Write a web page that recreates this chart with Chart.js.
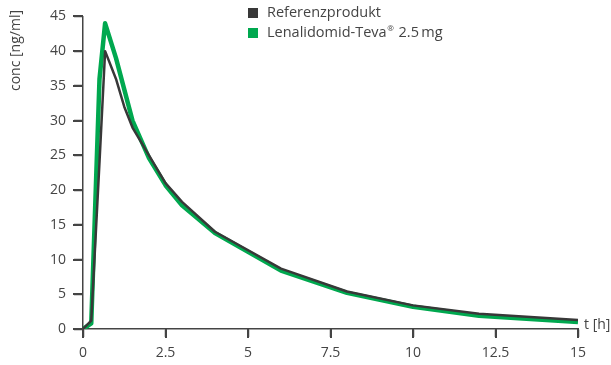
<!DOCTYPE html>
<html>
<head>
<meta charset="utf-8">
<script src="https://cdn.jsdelivr.net/npm/chart.js@4/dist/chart.umd.min.js"></script>
<style>
  html, body { margin: 0; padding: 0; background: #fff; }
  #wrap { position: relative; width: 611px; height: 365px; }
</style>
</head>
<body>
<div id="wrap"><canvas id="chart"></canvas></div>
<script>
// time points [h]
var times = [0, 0.25, 0.5, 0.67, 1, 1.25, 1.5, 2, 2.5, 3, 4, 6, 8, 10, 12, 15];
// conc [ng/ml]
var referenz = [0, 1.2, 24, 40, 36, 32, 29, 25, 21, 18.3, 14, 8.7, 5.4, 3.4, 2.2, 1.3];
var teva = [0, 0.8, 36, 44, 39, 34.5, 30, 24.6, 20.7, 17.8, 13.8, 8.4, 5.2, 3.2, 1.9, 1.0];

var labels = ["Referenzprodukt", "Lenalidomid-Teva\u00AE 2.5\u2009mg"];
var colors = ["#383838", "#00a84f"];

var textColor = "#444";
var axisColor = "#444";
var font = "'Open Sans', sans-serif";

function toPoints(ys) {
    return times.map(function (t, i) { return { x: t, y: ys[i] }; });
}

// tick marks, axis titles + legend drawn by hand
var extras = {
    id: 'extras',
    afterDatasetsDraw: function (chart) {
        var ctx = chart.ctx;
        var xs = chart.scales.x, ys = chart.scales.y;
        ctx.save();
        ctx.fillStyle = axisColor;
        ys.ticks.forEach(function (t) {
            var py = Math.round(ys.getPixelForValue(t.value));
            ctx.fillRect(ys.right - 10, py - 1, 10, 2);
        });
        xs.ticks.forEach(function (t) {
            var px = Math.round(xs.getPixelForValue(t.value));
            ctx.fillRect(px - 1, xs.top, 2, 9);
        });
        ctx.restore();
    },
    afterDraw: function (chart) {
        var ctx = chart.ctx;
        ctx.save();
        ctx.fillStyle = textColor;
        ctx.font = "14px " + font;

        // y title, rotated at top left
        ctx.save();
        ctx.translate(16, 10);
        ctx.rotate(-Math.PI / 2);
        ctx.textAlign = 'right';
        ctx.textBaseline = 'middle';
        ctx.fillText("conc [ng/ml]", 0, 0);
        ctx.restore();

        // x title at the end of the axis
        ctx.textAlign = 'left';
        ctx.textBaseline = 'middle';
        ctx.fillText("t [h]", 584, 325);

        // legend (the ® is drawn small and raised)
        chart.data.datasets.forEach(function (ds, i) {
            var y = 13 + i * 20;
            var x = 267;
            ctx.fillStyle = colors[i];
            ctx.fillRect(248, y - 5, 10, 10);
            ctx.fillStyle = textColor;
            var parts = ds.label.split("\u00AE");
            ctx.font = "14.5px " + font;
            ctx.fillText(parts[0], x, y);
            if (parts.length > 1) {
                x += ctx.measureText(parts[0]).width + 0.5;
                ctx.font = "8px " + font;
                ctx.fillText("\u00AE", x, y - 4);
                x += ctx.measureText("\u00AE").width + 1;
                ctx.font = "14.5px " + font;
                ctx.fillText(parts[1], x, y);
            }
        });
        ctx.restore();
    }
};

new Chart(document.getElementById("chart"), {
    type: "line",
    data: {
        datasets: [{
            label: labels[0],
            data: toPoints(referenz),
            borderColor: colors[0],
            backgroundColor: colors[0],
            borderWidth: 2.5,
            borderJoinStyle: 'round',
            pointRadius: 0,
            tension: 0
        }, {
            label: labels[1],
            data: toPoints(teva),
            borderColor: colors[1],
            backgroundColor: colors[1],
            borderWidth: 4.5,
            borderJoinStyle: 'round',
            pointRadius: 0,
            tension: 0
        }]
    },
    options: {
        responsive: true,
        maintainAspectRatio: false,
        animation: false,
        layout: {
            padding: { top: 15, right: 33, left: 0, bottom: 0 }
        },
        plugins: {
            legend: { display: false },
            tooltip: { enabled: false }
        },
        scales: {
            x: {
                type: "linear",
                min: 0,
                max: 15,
                afterFit: function (s) { s.height = 36; },
                border: { display: true, color: axisColor, width: 1.5 },
                grid: { drawOnChartArea: false, drawTicks: true, tickLength: 8, color: axisColor, tickColor: axisColor, tickWidth: 1.5 },
                ticks: {
                    stepSize: 2.5,
                    color: textColor,
                    padding: 8,
                    font: { family: font, size: 14 }
                }
            },
            y: {
                min: 0,
                max: 45,
                afterFit: function (s) { s.width = 83; },
                border: { display: true, color: axisColor, width: 1.5 },
                grid: { drawOnChartArea: false, drawTicks: true, tickLength: 9, color: axisColor, tickColor: axisColor, tickWidth: 1.5 },
                ticks: {
                    stepSize: 5,
                    color: textColor,
                    padding: 8,
                    font: { family: font, size: 14 }
                }
            }
        }
    },
    plugins: [extras]
});
</script>
</body>
</html>
